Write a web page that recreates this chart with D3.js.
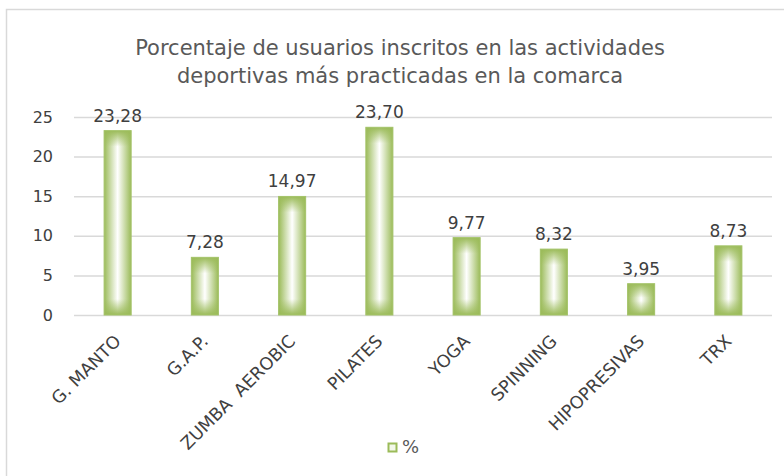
<!DOCTYPE html>
<html>
<head>
<meta charset="utf-8">
<script src="https://cdn.jsdelivr.net/npm/d3@7"></script>
<style>
body { margin: 0; background: #fff; }
text { font-family: "DejaVu Sans", sans-serif; }
</style>
</head>
<body>
<svg id="chart" width="784" height="476"></svg>
<script>
// datos del grafico
var categorias = ["G. MANTO", "G.A.P.", "ZUMBA  AEROBIC", "PILATES", "YOGA", "SPINNING", "HIPOPRESIVAS", "TRX"];
var porcentajes = [23.28, 7.28, 14.97, 23.70, 9.77, 8.32, 3.95, 8.73];
var ticksY = [0, 5, 10, 15, 20, 25];
var titulo = ["Porcentaje de usuarios inscritos en las actividades", "deportivas más practicadas en la comarca"];
var leyenda = "%";

var verde = "#9bbb59";

function Grafico() {
	var svg = d3.select("#chart");
	var m = {left: 74, right: 12, top: 117, bottom: 161};
	var W = 784, H = 476;

	// marco
	svg.append("rect")
		.attr("x", 6.5).attr("y", 9.5)
		.attr("width", W + 10).attr("height", H + 10)
		.attr("fill", "none").attr("stroke", "#d9d9d9").attr("stroke-width", 1.5);

	var x = d3.scaleBand().domain(categorias)
		.range([m.left, W - m.right]).paddingInner(0.69).paddingOuter(0.345);
	var y = d3.scaleLinear().domain([0, 25]).range([H - m.bottom, m.top]);

	// titulo
	svg.append("text")
		.attr("x", 400).attr("y", 55)
		.attr("text-anchor", "middle")
		.attr("font-size", 21).attr("fill", "#595959")
		.selectAll("tspan").data(titulo).enter().append("tspan")
		.attr("x", 400).attr("dy", function (d, i) { return i ? 28 : 0; })
		.text(function (d) { return d; });

	// rejilla
	var ejeY = d3.axisLeft(y).tickValues(ticksY).tickSize(-(W - m.right - m.left)).tickPadding(21);
	var gy = svg.append("g").attr("transform", "translate(" + m.left + ",0)").call(ejeY);
	gy.select(".domain").remove();
	gy.selectAll(".tick line").attr("stroke", "#d9d9d9").attr("stroke-width", 1.5);
	gy.selectAll(".tick text").attr("font-size", 16).attr("fill", "#404040")
		.attr("font-family", "DejaVu Sans Condensed, DejaVu Sans, sans-serif");

	// eje x
	var ejeX = d3.axisBottom(x).tickSize(0).tickPadding(0);
	var gx = svg.append("g").attr("transform", "translate(0," + (H - m.bottom) + ")").call(ejeX);
	gx.select(".domain").remove();
	gx.selectAll(".tick text")
		.attr("font-size", 17.5).attr("fill", "#404040")
		.attr("font-family", "DejaVu Sans, sans-serif")
		.style("white-space", "pre")
		.attr("text-anchor", "end")
		.attr("transform", "translate(0,23) rotate(-45)")
		.attr("dy", "0.35em");

	// degradados
	var defs = svg.append("defs");
	var gh = defs.append("linearGradient").attr("id", "gradH").attr("x1", 0).attr("x2", 1).attr("y1", 0).attr("y2", 0);
	gh.append("stop").attr("offset", 0).attr("stop-color", verde);
	gh.append("stop").attr("offset", 0.5).attr("stop-color", "#ffffff");
	gh.append("stop").attr("offset", 1).attr("stop-color", verde);

	porcentajes.forEach(function (v, i) {
		var h = y(0) - y(v);
		var f = Math.min(0.45, 16 / h);
		var gv = defs.append("linearGradient").attr("id", "gradV" + i).attr("x1", 0).attr("x2", 0).attr("y1", 0).attr("y2", 1);
		gv.append("stop").attr("offset", 0).attr("stop-color", verde).attr("stop-opacity", 1);
		gv.append("stop").attr("offset", f).attr("stop-color", verde).attr("stop-opacity", 0);
		gv.append("stop").attr("offset", 1 - f).attr("stop-color", verde).attr("stop-opacity", 0);
		gv.append("stop").attr("offset", 1).attr("stop-color", verde).attr("stop-opacity", 1);
	});

	var barras = svg.append("g").selectAll("g").data(porcentajes).enter().append("g");
	barras.append("rect")
		.attr("x", function (d, i) { return x(categorias[i]); })
		.attr("y", function (d) { return y(d); })
		.attr("width", x.bandwidth())
		.attr("height", function (d) { return y(0) - y(d); })
		.attr("fill", "url(#gradH)");
	barras.append("rect")
		.attr("x", function (d, i) { return x(categorias[i]); })
		.attr("y", function (d) { return y(d); })
		.attr("width", x.bandwidth())
		.attr("height", function (d) { return y(0) - y(d); })
		.attr("fill", function (d, i) { return "url(#gradV" + i + ")"; })
		.attr("stroke", "#a5c46b").attr("stroke-width", 1);

	// etiquetas de valor
	barras.append("text")
		.attr("x", function (d, i) { return x(categorias[i]) + x.bandwidth() / 2; })
		.attr("y", function (d) { return y(d) - 9; })
		.attr("text-anchor", "middle")
		.attr("font-size", 17).attr("fill", "#404040")
		.text(function (d) { return d.toFixed(2).replace(".", ","); });

	// leyenda
	var lg = svg.append("g").attr("transform", "translate(388,443)");
	lg.append("rect").attr("x", 0.5).attr("y", 0.5).attr("width", 8).attr("height", 8)
		.attr("fill", "#f3f8ea").attr("stroke", verde).attr("stroke-width", 2);
	lg.append("text").attr("x", 14).attr("y", 10)
		.attr("font-size", 18).attr("fill", "#595959").text(leyenda);
}

Grafico();
</script>
</body>
</html>
